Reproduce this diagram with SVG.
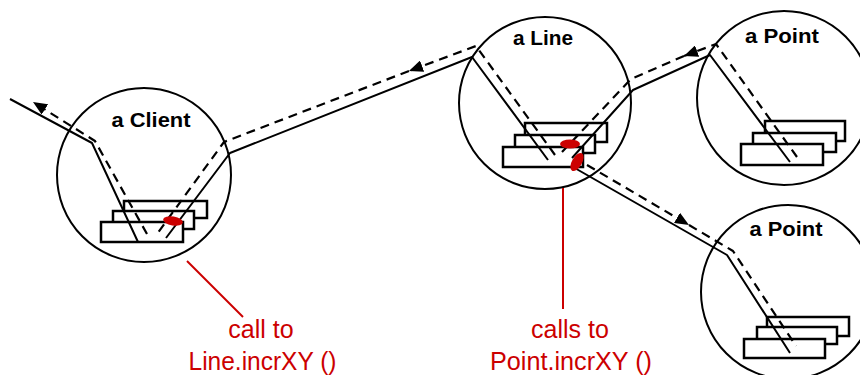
<svg xmlns="http://www.w3.org/2000/svg" width="860" height="375" viewBox="0 0 860 375">
  <style>
    .obj { fill: none; stroke: #000; stroke-width: 2; }
    .frame { fill: #fff; stroke: #000; stroke-width: 2.5; }
    .name { font-family: "Liberation Sans", Arial, sans-serif; font-weight: bold; font-size: 21px; fill: #000; text-anchor: middle; }
    .flow { fill: none; stroke: #000; stroke-width: 2; stroke-linejoin: round; }
    .back { fill: none; stroke: #000; stroke-width: 2.2; stroke-dasharray: 9 6; stroke-linejoin: round; }
    .call { fill: #cc0000; }
    .note { fill: none; stroke: #cc0000; stroke-width: 2; }
    .note-text { font-family: "Liberation Sans", Arial, sans-serif; font-size: 25px; fill: #cc0000; text-anchor: middle; }
  </style>
  <defs>
    <marker id="arrow" markerUnits="userSpaceOnUse" markerWidth="15" markerHeight="12" refX="14" refY="6" orient="auto">
      <path d="M0,0 L14,6 L0,12 z" fill="#000"/>
    </marker>
  </defs>

  <rect width="860" height="375" fill="#fff"/>

  <!-- objects: circle, stack of activation frames, name -->
  <g id="client">
    <circle class="obj" cx="144" cy="175" r="87"/>
    <rect class="frame" x="124" y="201" width="83" height="17"/>
    <rect class="frame" x="113" y="211" width="81" height="18"/>
    <rect class="frame" x="101" y="222" width="82" height="20"/>
    <text class="name" x="151" y="127" textLength="79" lengthAdjust="spacingAndGlyphs">a Client</text>
  </g>

  <g id="line">
    <circle class="obj" cx="545" cy="103" r="86"/>
    <rect class="frame" x="525" y="123" width="82" height="19"/>
    <rect class="frame" x="515" y="135" width="80" height="18"/>
    <rect class="frame" x="503" y="147" width="80" height="20"/>
    <text class="name" x="543" y="45" textLength="60" lengthAdjust="spacingAndGlyphs">a Line</text>
  </g>

  <g id="point1">
    <circle class="obj" cx="784" cy="98" r="87"/>
    <rect class="frame" x="765" y="121" width="80" height="20"/>
    <rect class="frame" x="753" y="133" width="83" height="19"/>
    <rect class="frame" x="741" y="144" width="82" height="21"/>
    <text class="name" x="782" y="43" textLength="74" lengthAdjust="spacingAndGlyphs">a Point</text>
  </g>

  <g id="point2">
    <circle class="obj" cx="788" cy="292" r="87"/>
    <rect class="frame" x="767" y="317" width="82" height="19"/>
    <rect class="frame" x="757" y="327" width="80" height="17"/>
    <rect class="frame" x="744" y="339" width="81" height="19"/>
    <text class="name" x="786" y="236" textLength="73" lengthAdjust="spacingAndGlyphs">a Point</text>
  </g>

  <!-- thread of control (solid) and returns (dashed) -->
  <g id="connectors">
    <path class="flow" d="M10 99 L92 143 L138 242"/>
    <path class="flow" d="M166 238 L230 153 L472 57 L548 160"/>
    <path class="flow" d="M572 158 L633 90 L710 55 L790 162"/>
    <path class="flow" d="M573 167 L727 255 L790 353"/>

    <path class="back" d="M797 157 L716 44 L684 56" marker-end="url(#arrow)"/>
    <path class="back" d="M684 56 L631 79 L562 152"/>
    <path class="back" d="M555 155 L476 46 L409 71" marker-end="url(#arrow)"/>
    <path class="back" d="M409 71 L224 142 L157 234"/>
    <path class="back" d="M147 234 L95 141 L33 102" marker-end="url(#arrow)"/>
    <path class="back" d="M587 165 L689 225" marker-end="url(#arrow)"/>
    <path class="back" d="M689 225 L733 251 L796 346"/>
  </g>

  <!-- active call points -->
  <g id="calls">
    <ellipse class="call" cx="173" cy="221" rx="10" ry="4.5" transform="rotate(10 173 221)"/>
    <ellipse class="call" cx="570" cy="144" rx="10" ry="4.5"/>
    <ellipse class="call" cx="577" cy="162" rx="10" ry="5" transform="rotate(-60 577 162)"/>
  </g>

  <!-- annotations -->
  <g id="notes">
    <line class="note" x1="187" y1="261" x2="243" y2="317"/>
    <text class="note-text" x="261" y="338">call to</text>
    <text class="note-text" x="262.5" y="370" textLength="148" lengthAdjust="spacingAndGlyphs">Line.incrXY ()</text>
    <line class="note" x1="563" y1="188" x2="563" y2="309"/>
    <text class="note-text" x="570" y="338">calls to</text>
    <text class="note-text" x="571" y="370" textLength="162" lengthAdjust="spacingAndGlyphs">Point.incrXY ()</text>
  </g>
</svg>
